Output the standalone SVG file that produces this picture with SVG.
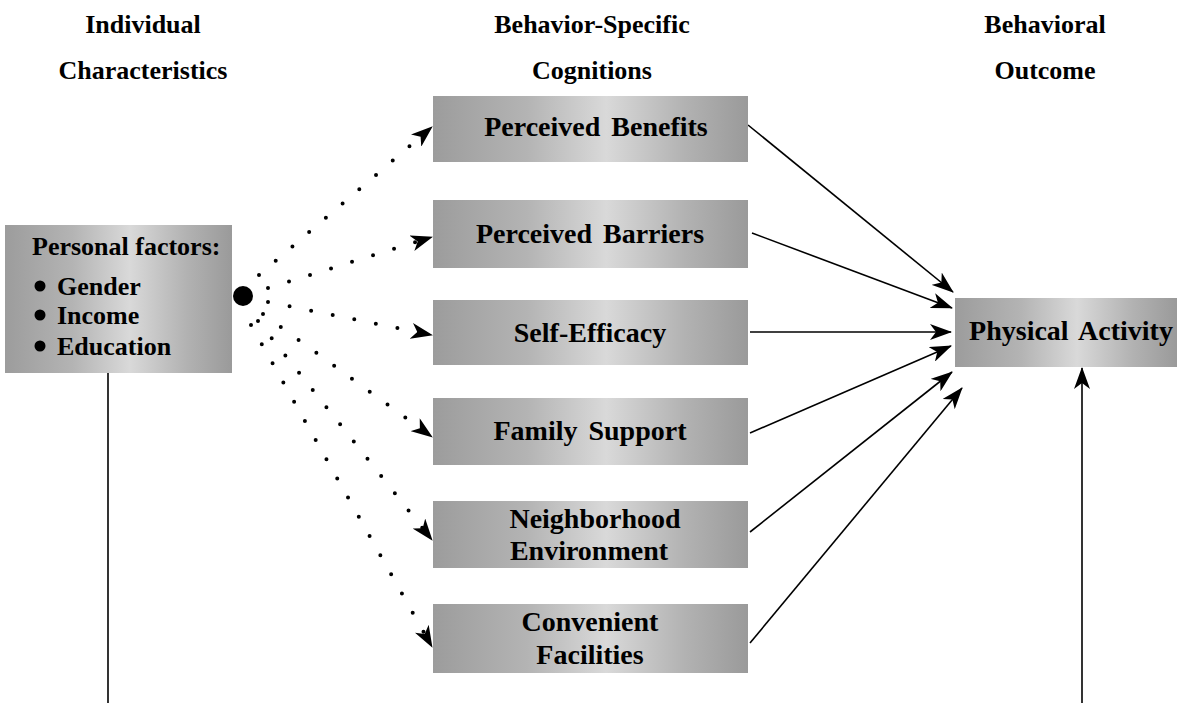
<svg xmlns="http://www.w3.org/2000/svg" width="1178" height="703" viewBox="0 0 1178 703">
<defs>
<linearGradient id="boxg" x1="0" y1="0" x2="1" y2="0">
<stop offset="0" stop-color="#9c9c9c"/>
<stop offset="0.3" stop-color="#b4b4b4"/>
<stop offset="0.55" stop-color="#d9d9d9"/>
<stop offset="0.8" stop-color="#b2b2b2"/>
<stop offset="1" stop-color="#9a9a9a"/>
</linearGradient>
<marker id="arr" markerUnits="userSpaceOnUse" viewBox="0 0 22 16" refX="21" refY="8" markerWidth="22" markerHeight="16" orient="auto">
<path d="M0,0 L22,8 L0,16 L6,8 Z" fill="#000"/>
</marker>
<marker id="darr" markerUnits="userSpaceOnUse" viewBox="0 0 22 16" refX="21" refY="8" markerWidth="22" markerHeight="16" orient="auto">
<path d="M0,0 L22,8 L0,16 L6,8 Z" fill="#000"/>
</marker>
</defs>
<style>
.box{fill:url(#boxg);}
.lbl{font-family:"Liberation Serif","Times New Roman",serif;font-weight:bold;font-size:28px;fill:#000;text-anchor:middle;word-spacing:4px;}
.hdr{font-family:"Liberation Serif","Times New Roman",serif;font-weight:bold;font-size:26px;fill:#000;text-anchor:middle;}
.pf{font-family:"Liberation Serif","Times New Roman",serif;font-weight:bold;font-size:26px;fill:#000;}
.solid{fill:none;stroke:#000;stroke-width:1.6;}
.dotted{fill:none;stroke:#000;stroke-width:4;stroke-linecap:round;stroke-dasharray:0 22;}
</style>
<rect width="1178" height="703" fill="#fff"/>

<g id="headers">
<text class="hdr" x="143" y="33">Individual</text>
<text class="hdr" x="143" y="79">Characteristics</text>
<text class="hdr" x="592" y="33">Behavior-Specific</text>
<text class="hdr" x="592" y="79">Cognitions</text>
<text class="hdr" x="1045" y="33">Behavioral</text>
<text class="hdr" x="1045" y="79">Outcome</text>
</g>

<g id="connectors">
<path class="dotted" d="M259,275 L432,127" marker-end="url(#darr)"/>
<path class="dotted" d="M268,288 L432,237" marker-end="url(#darr)"/>
<path class="dotted" d="M268,302 L432,335" marker-end="url(#darr)"/>
<path class="dotted" d="M263,314 L432,437" marker-end="url(#darr)"/>
<path class="dotted" d="M258,321 L432,540" marker-end="url(#darr)"/>
<path class="dotted" d="M251,325 L432,647" marker-end="url(#darr)"/>
<circle cx="243" cy="296" r="10" fill="#000"/>
<path class="solid" d="M748,125 L953,292" marker-end="url(#arr)"/>
<path class="solid" d="M752,233 L952,308" marker-end="url(#arr)"/>
<path class="solid" d="M750,332 L951,332" marker-end="url(#arr)"/>
<path class="solid" d="M750,433 L951,346" marker-end="url(#arr)"/>
<path class="solid" d="M750,532 L952,372" marker-end="url(#arr)"/>
<path class="solid" d="M750,643 L962,388" marker-end="url(#arr)"/>
<path class="solid" d="M108,373 L108,703"/>
<path class="solid" d="M1082,703 L1082,368" marker-end="url(#arr)"/>
</g>

<g id="personal-factors">
<rect class="box" x="5" y="225" width="227" height="148"/>
<text class="pf" x="32" y="255">Personal factors:</text>
<circle cx="40" cy="286" r="5.5" fill="#000"/>
<text class="pf" x="57" y="295">Gender</text>
<circle cx="40" cy="315" r="5.5" fill="#000"/>
<text class="pf" x="57" y="324">Income</text>
<circle cx="40" cy="346" r="5.5" fill="#000"/>
<text class="pf" x="57" y="355">Education</text>
</g>

<g id="perceived-benefits">
<rect class="box" x="433" y="96" width="315" height="66"/>
<text class="lbl" x="596" y="136">Perceived Benefits</text>
</g>
<g id="perceived-barriers">
<rect class="box" x="433" y="200" width="315" height="68"/>
<text class="lbl" x="590" y="243">Perceived Barriers</text>
</g>
<g id="self-efficacy">
<rect class="box" x="433" y="300" width="315" height="65"/>
<text class="lbl" x="590" y="342">Self-Efficacy</text>
</g>
<g id="family-support">
<rect class="box" x="433" y="398" width="315" height="67"/>
<text class="lbl" x="590" y="440">Family Support</text>
</g>
<g id="neighborhood-environment">
<rect class="box" x="433" y="501" width="315" height="67"/>
<text class="lbl" x="595" y="528">Neighborhood</text>
<text class="lbl" x="589" y="560">Environment</text>
</g>
<g id="convenient-facilities">
<rect class="box" x="433" y="604" width="315" height="69"/>
<text class="lbl" x="590" y="631">Convenient</text>
<text class="lbl" x="590" y="664">Facilities</text>
</g>
<g id="physical-activity">
<rect class="box" x="955" y="298" width="222" height="69"/>
<text class="lbl" x="1071" y="340">Physical Activity</text>
</g>
</svg>
